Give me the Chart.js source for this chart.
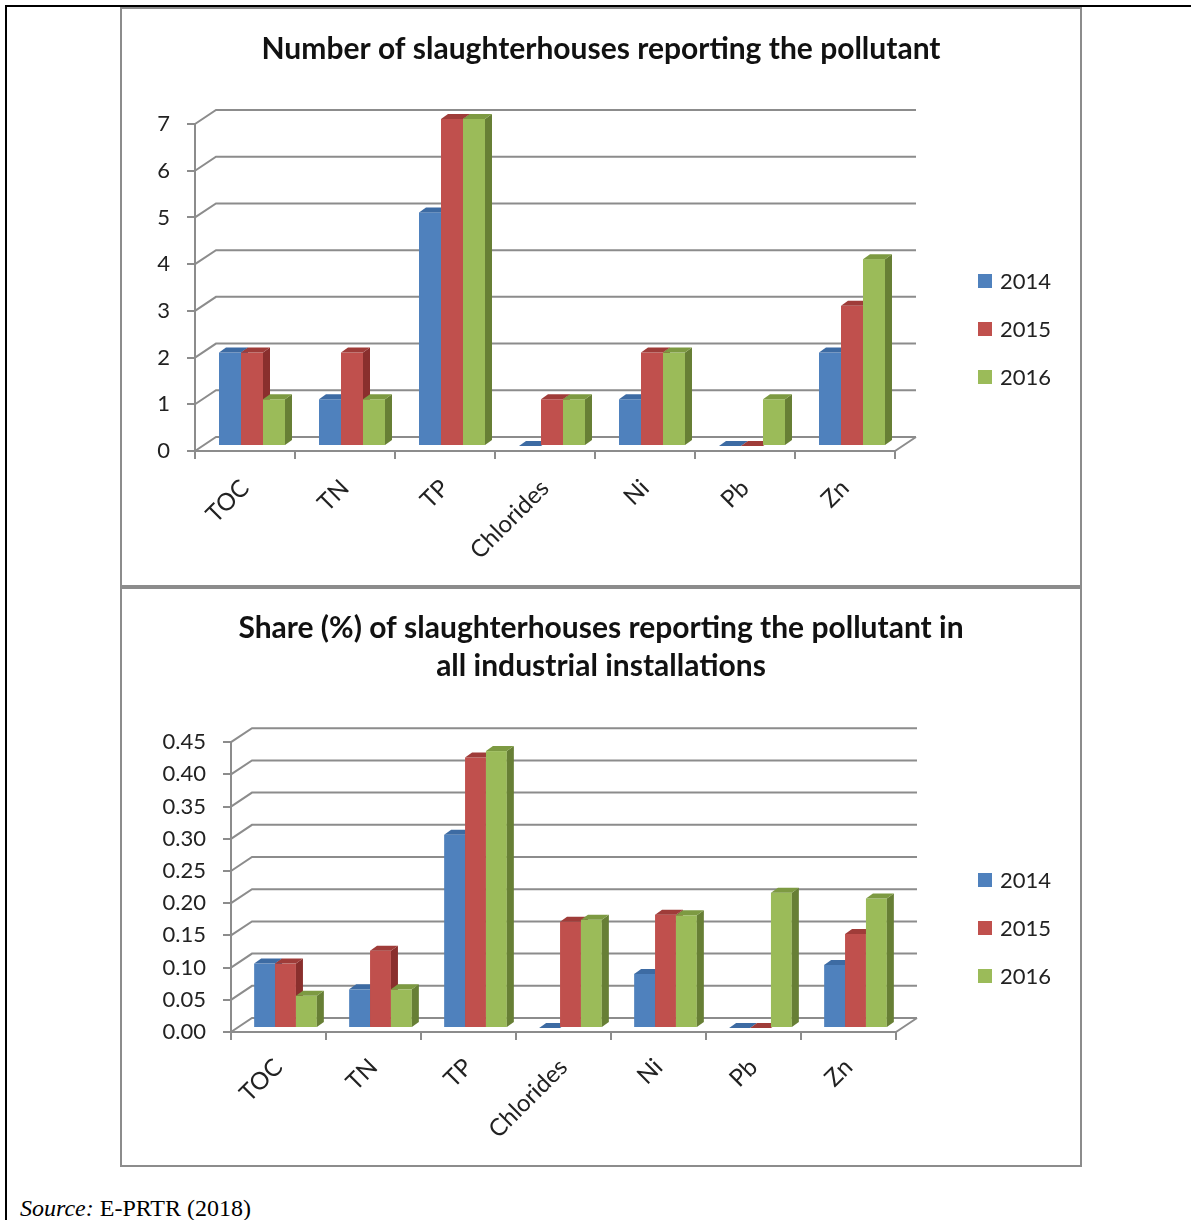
<!DOCTYPE html>
<html>
<head>
<meta charset="utf-8">
<script src="https://cdn.jsdelivr.net/npm/chart.js@4"></script>
<style>
  html, body { margin: 0; padding: 0; background: #fff; }
  body { width: 1191px; height: 1220px; position: relative; overflow: hidden; }
  .frame-top { position: absolute; left: 5px; top: 5px; width: 1186px; height: 2px; background: #000; }
  .frame-left { position: absolute; left: 5px; top: 5px; width: 2px; height: 1215px; background: #000; }
  .box { position: absolute; left: 120px; width: 958px; border: 2px solid #8c8c8c; background: #fff; }
  #box1 { top: 7px; height: 576px; }
  #box2 { top: 586px; height: 576px; border-top-width: 3px; }
  .box canvas { position: absolute; left: 0; top: 0; }
  .source { position: absolute; left: 20px; top: 1196px; font: 24px "Liberation Serif", "Times New Roman", serif; line-height: 1; color: #000; white-space: nowrap; }
</style>
</head>
<body>
<div class="frame-top"></div>
<div class="frame-left"></div>
<div class="box" id="box1"><canvas id="c1" width="958" height="576"></canvas></div>
<div class="box" id="box2"><canvas id="c2" width="958" height="576"></canvas></div>
<div class="source"><i>Source:</i> E-PRTR (2018)</div>
<script>
// Pollutants and reporting years
const categories = ['TOC', 'TN', 'TP', 'Chlorides', 'Ni', 'Pb', 'Zn'];
const years = ['2014', '2015', '2016'];

// Number of slaughterhouses reporting each pollutant
const count2014 = [2, 1, 5, 0, 1, 0, 2];
const count2015 = [2, 2, 7, 1, 2, 0, 3];
const count2016 = [1, 1, 7, 1, 2, 1, 4];
const countTicks = [0, 1, 2, 3, 4, 5, 6, 7];

// Share (%) of slaughterhouses among all reporting installations
const share2014 = [0.10, 0.06, 0.30, 0, 0.084, 0, 0.098];
const share2015 = [0.10, 0.12, 0.42, 0.165, 0.176, 0, 0.146];
const share2016 = [0.05, 0.06, 0.43, 0.168, 0.175, 0.21, 0.201];
const shareTicks = [0, 0.05, 0.10, 0.15, 0.20, 0.25, 0.30, 0.35, 0.40, 0.45];

const FONT = 'Lato, "Open Sans", "DejaVu Sans", sans-serif';
const GRID = '#8c8c8c';

// front, top and side shades for each series
const palette = [
  { front: '#4f81bd', top: '#3d6ba3', side: '#345b8c' },
  { front: '#c0504d', top: '#9f3c39', side: '#8a2f2d' },
  { front: '#9bbb59', top: '#7d9a42', side: '#677f35' }
];

// Draws a pseudo-3D column chart: back wall, floor and prism bars
const columns3d = {
  id: 'columns3d',
  beforeDatasetsDraw(chart, args, opts) {
    const { ctx, chartArea: a } = chart;
    const y = chart.scales.y;
    const [bx, by] = opts.wall;
    ctx.save();
    ctx.strokeStyle = GRID;
    ctx.lineWidth = 2;
    ctx.beginPath();
    y.ticks.forEach(t => {
      const py = y.getPixelForValue(t.value);
      ctx.moveTo(a.left, py);
      ctx.lineTo(a.left + bx, py + by);
      ctx.lineTo(a.right + bx, py + by);
    });
    // right edge of the floor
    ctx.moveTo(a.right, a.bottom);
    ctx.lineTo(a.right + bx, a.bottom + by);
    ctx.stroke();
    ctx.restore();
  },
  beforeDatasetDraw() { return false; },
  afterDatasetsDraw(chart, args, opts) {
    const { ctx } = chart;
    const [ox, oy] = opts.shift;
    const [dx, dy] = opts.depth;
    const metas = chart.getSortedVisibleDatasetMetas();
    const n = chart.data.labels.length;
    ctx.save();
    for (let i = 0; i < n; i++) {
      metas.forEach((meta, d) => {
        const bar = meta.data[i];
        const p = bar.getProps(['x', 'y', 'base', 'width'], true);
        const c = palette[d];
        const xl = p.x - p.width / 2 + ox, xr = p.x + p.width / 2 + ox;
        const yt = p.y + oy, yb = p.base + oy;
        // front face
        ctx.fillStyle = c.front;
        ctx.fillRect(xl, yt, xr - xl, yb - yt);
        // side face
        ctx.fillStyle = c.side;
        ctx.beginPath();
        ctx.moveTo(xr, yt); ctx.lineTo(xr + dx, yt + dy);
        ctx.lineTo(xr + dx, yb + dy); ctx.lineTo(xr, yb);
        ctx.closePath(); ctx.fill();
        // top face
        ctx.fillStyle = c.top;
        ctx.beginPath();
        ctx.moveTo(xl, yt); ctx.lineTo(xr, yt);
        ctx.lineTo(xr + dx, yt + dy); ctx.lineTo(xl + dx, yt + dy);
        ctx.closePath(); ctx.fill();
      });
    }
    ctx.restore();
  },
  afterDraw(chart, args, opts) {
    // legend: colour squares with year labels
    const { ctx } = chart;
    ctx.save();
    ctx.font = '22px ' + FONT;
    ctx.textBaseline = 'middle';
    chart.data.datasets.forEach((ds, d) => {
      const cy = opts.legendY + d * opts.legendGap;
      ctx.fillStyle = palette[d].front;
      ctx.fillRect(opts.legendX, cy - 7, 14, 14);
      ctx.fillStyle = '#222';
      ctx.fillText(ds.label, opts.legendX + 22, cy + 1);
    });
    ctx.restore();
  }
};

function buildChart(id, series, ticks, cfg) {
  const datasets = years.map((yr, d) => ({
    label: yr,
    data: series[d],
    backgroundColor: palette[d].front
  }));
  return new Chart(document.getElementById(id), {
    type: 'bar',
    data: { labels: categories, datasets },
    plugins: [columns3d],
    options: {
      responsive: false,
      animation: false,
      events: [],
      datasets: { bar: { barPercentage: 1, categoryPercentage: 0.66 } },
      layout: { autoPadding: false, padding: 0 },
      plugins: {
        legend: { display: false },
        tooltip: { enabled: false },
        title: {
          display: true,
          text: cfg.title,
          color: '#111',
          font: { family: FONT, size: 30, weight: 'bold', lineHeight: cfg.titleLine },
          padding: { top: cfg.titleTop, bottom: cfg.titleBottom }
        },
        columns3d: {
          wall: [21, -14], shift: [7, cfg.shiftY], depth: [7, -5],
          legendX: cfg.legendX, legendY: cfg.legendY, legendGap: 48
        }
      },
      scales: {
        x: {
          grid: { display: true, drawOnChartArea: false, offset: true, color: GRID, lineWidth: 2, tickLength: 8 },
          border: { display: true, color: GRID, width: 2 },
          ticks: { color: '#222', font: { family: FONT, size: 24 }, minRotation: 45, maxRotation: 45, padding: cfg.xPad, autoSkip: false },
          afterFit: s => { s.height = cfg.xHeight; }
        },
        y: {
          min: 0, max: ticks[ticks.length - 1],
          afterBuildTicks: s => { s.ticks = ticks.map(v => ({ value: v })); },
          grid: { display: true, drawOnChartArea: false, color: GRID, lineWidth: 2, tickLength: 8 },
          border: { display: true, color: GRID, width: 2 },
          ticks: { color: '#222', font: { family: FONT, size: 22 }, padding: 17, callback: cfg.fmt },
          afterFit: s => { s.width = cfg.yWidth; }
        },
        // empty right-hand strip that holds the legend
        legendStrip: {
          type: 'linear', position: 'right', display: true,
          grid: { display: false }, border: { display: false }, ticks: { display: false },
          afterFit: s => { s.width = cfg.padRight; }
        }
      }
    }
  });
}

buildChart('c1', [count2014, count2015, count2016], countTicks, {
  title: 'Number of slaughterhouses reporting the pollutant',
  titleLine: 1.2, titleTop: 22, titleBottom: 57,
  yWidth: 73, padRight: 185, xHeight: 134, shiftY: -5, xPad: 15,
  legendX: 856, legendY: 272,
  fmt: v => String(v)
});

buildChart('c2', [share2014, share2015, share2016], shareTicks, {
  title: ['Share (%) of slaughterhouses reporting the pollutant in', 'all industrial installations'],
  titleLine: 1.27, titleTop: 20, titleBottom: 57,
  yWidth: 109, padRight: 184, xHeight: 133, shiftY: -4, xPad: 13,
  legendX: 856, legendY: 291,
  fmt: v => v.toFixed(2)
});
</script>
</body>
</html>
